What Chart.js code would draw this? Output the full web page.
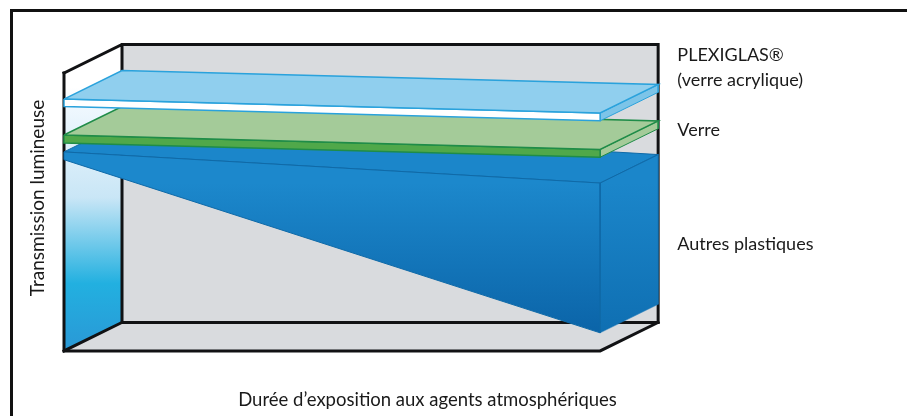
<!DOCTYPE html>
<html><head><meta charset="utf-8">
<script src="https://cdn.jsdelivr.net/npm/chart.js@4/dist/chart.umd.min.js"></script>
<style>
html,body{margin:0;padding:0;background:#fff;overflow:hidden}
#wrap{position:absolute;left:0;top:0;width:907px;height:416px;overflow:hidden}
#frame{position:absolute;left:10px;top:9px;width:920px;height:440px;border:3px solid #111;box-sizing:border-box}
canvas{position:absolute;left:0;top:0}
</style></head><body>
<div id="wrap"><div id="frame"></div><canvas id="c" width="907" height="416"></canvas></div>
<script>
const FONT = 'Lato';
// Time axis (relative units) at the two ends of each band
const durations = [0, 100];
// Transmission (relative units) at the start and end of the exposure
const plexiglasValues = [90.6, 85.6];
const plexiglasLower  = [87.9, 82.8];
const verreValues     = [77.7, 72.5];
const verreLower      = [74.8, 69.7];
const autresTop       = [71.6, 60.4];
const autresBottom    = [68.8, 6.5];
// Labels
const seriesLabels = [['PLEXIGLAS®','(verre acrylique)'],['Verre'],['Autres plastiques']];
const labelPositions = [[114.4,106.5],[114.4,79.5],[114.4,38.5]];
const xTitle = 'Durée d’exposition aux agents atmosphériques';
const yTitle = 'Transmission lumineuse';
// Oblique depth of the box
const depthX = 10.82, depthY = 10.25;
const boxTop = 100;

const pt = (t, v, back) => ({x: t + (back ? depthX : 0), y: v + (back ? depthY : 0)});
const closed = pts => pts.concat([pts[0]]);
const [t0, t1] = durations;

function grad(stops, yTop, yBottom) {
  return ctx => {
    const s = ctx.chart.scales.y;
    if (!s) return stops[0][1];
    const a = s.getPixelForValue(yTop), b = s.getPixelForValue(yBottom);
    if (!isFinite(a) || !isFinite(b)) return stops[0][1];
    const g = ctx.chart.ctx.createLinearGradient(0, a, 0, b);
    stops.forEach(([o, c]) => g.addColorStop(o, c));
    return g;
  };
}
function poly(pts, fill, stroke, width) {
  return {type:'scatter', data: closed(pts), showLine:true, fill:'shape', tension:0,
    backgroundColor: fill, borderColor: stroke || 'rgba(0,0,0,0)', borderWidth: width === undefined ? 1 : width,
    pointRadius:0, pointHoverRadius:0, clip:false, borderJoinStyle:'miter'};
}
function edge(pts, color, width) {
  return {type:'scatter', data: pts, showLine:true, fill:false, tension:0, borderColor: color, borderWidth: width,
    pointRadius:0, pointHoverRadius:0, clip:false, borderCapStyle:'square', borderJoinStyle:'miter'};
}
const BLACK = '#111214', GREY = '#d9dbde';
const wallStops = [[0,'#ffffff'],[0.14,'#ffffff'],[0.2,'#f0f8fe'],[0.5,'#c9e6f6'],[0.78,'#22b0e0'],[1,'#2a98d6']];
const frontStops = [[0,'#1c88cc'],[1,'#0b64a8']];
const sideStops = [[0,'#1b86ca'],[1,'#0f6fb2']];

// Painted back to front
const layers = [
  poly([pt(t0,0,true),pt(t1,0,true),pt(t1,boxTop,true),pt(t0,boxTop,true)], GREY),
  poly([pt(t0,0,false),pt(t1,0,false),pt(t1,0,true),pt(t0,0,true)], GREY),
  poly([pt(t0,0,false),pt(t0,0,true),pt(t0,boxTop,true),pt(t0,boxTop,false)], grad(wallStops,boxTop+depthY,0)),
  edge([pt(t0,boxTop,false),pt(t0,boxTop,true),pt(t1,boxTop,true),pt(t1,0,true),pt(t0,0,true),pt(t0,boxTop,true)], BLACK, 3),
  edge([pt(t0,boxTop,false),pt(t0,0,false),pt(t1,0,false),pt(t1,0,true)], BLACK, 3),
  edge([pt(t0,0,false),pt(t0,0,true)], BLACK, 3),

  // Autres plastiques
  poly([pt(t0,autresTop[0],false),pt(t0,autresTop[0],true),pt(t1,autresTop[1],true),pt(t1,autresTop[1],false)], '#1b86ca', '#0f6aa8', 1),
  poly([pt(t1,autresTop[1],false),pt(t1,autresTop[1],true),pt(t1,autresBottom[1],true),pt(t1,autresBottom[1],false)], grad(sideStops,autresTop[1],autresBottom[1]), '#1a78b8', 0.5),
  poly([pt(t0,autresTop[0],false),pt(t1,autresTop[1],false),pt(t1,autresBottom[1],false),pt(t0,autresBottom[0],false)], grad(frontStops,autresTop[1],autresBottom[1]), '#0f6aa8', 1),
  edge([pt(t1,autresTop[1],false),pt(t1,autresTop[1],true)], '#0f6aa8', 1),

  // Verre
  poly([pt(t1,verreValues[1],false),pt(t1,verreValues[1],true),pt(t1,verreLower[1],true),pt(t1,verreLower[1],false)], '#a4cb99', '#1f8c48', 1),
  poly([pt(t0,verreValues[0],false),pt(t1,verreValues[1],false),pt(t1,verreLower[1],false),pt(t0,verreLower[0],false)], '#50a84a', '#1f8c48', 1.5),
  poly([pt(t0,verreValues[0],false),pt(t0,verreValues[0],true),pt(t1,verreValues[1],true),pt(t1,verreValues[1],false)], '#a4cb99', '#1f8c48', 1.5),

  // PLEXIGLAS
  poly([pt(t1,plexiglasValues[1],false),pt(t1,plexiglasValues[1],true),pt(t1,plexiglasLower[1],true),pt(t1,plexiglasLower[1],false)], '#7cc4e8', '#2aa2dc', 1),
  poly([pt(t0,plexiglasValues[0],false),pt(t1,plexiglasValues[1],false),pt(t1,plexiglasLower[1],false),pt(t0,plexiglasLower[0],false)], '#ffffff', '#2aa2dc', 1.5),
  poly([pt(t0,plexiglasValues[0],false),pt(t0,plexiglasValues[0],true),pt(t1,plexiglasValues[1],true),pt(t1,plexiglasValues[1],false)], '#90cfee', '#2aa2dc', 1.5),
];
layers.forEach((l, i) => { l.order = layers.length - i; });

const seriesText = {
  id:'seriesText',
  afterDraw(chart) {
    const {ctx, scales:{x, y}} = chart;
    ctx.save();
    ctx.fillStyle = '#1a1a1a';
    ctx.font = '18px ' + FONT;
    ctx.textBaseline = 'middle';
    seriesLabels.forEach((lines, i) => {
      const [px, py] = labelPositions[i];
      lines.forEach((s, j) => ctx.fillText(s, x.getPixelForValue(px), y.getPixelForValue(py) + j * 25));
    });
    ctx.restore();
  }
};

new Chart(document.getElementById('c'), {
  data: {datasets: layers},
  plugins: [seriesText],
  options: {
    responsive:false, animation:false, devicePixelRatio:1,
    layout:{padding:{left:26.6, right:116, top:45, bottom:4.9}},
    plugins:{legend:{display:false}, tooltip:{enabled:false}},
    scales:{
      x:{type:'linear', min:0, max:135.6, grid:{display:false}, border:{display:false}, ticks:{display:false},
         title:{display:true, text:xTitle, color:'#1a1a1a', font:{family:FONT,size:18.5}, padding:{top:30,bottom:0}}},
      y:{type:'linear', min:0, max:110.07, grid:{display:false}, border:{display:false}, ticks:{display:false},
         title:{display:true, text:yTitle, color:'#1a1a1a', font:{family:FONT,size:19}, padding:{top:0,bottom:6.6}}}
    }
  }
});
</script>
</body></html>
